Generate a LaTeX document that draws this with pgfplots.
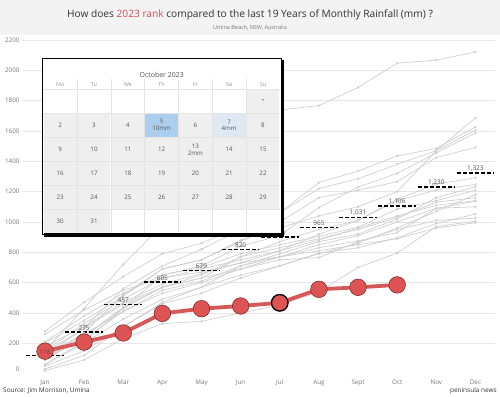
\documentclass[border=0pt]{standalone}
\usepackage{pgfplots}
\usepackage{pgfplotstable}
\pgfplotsset{compat=1.18}
\usepackage{fontspec}
\setmainfont{Open Sans}
\definecolor{redline}{RGB}{214,88,88}
\definecolor{redfill}{RGB}{222,84,84}
\definecolor{reddark}{RGB}{110,35,35}
\definecolor{greyline}{RGB}{208,208,208}
\definecolor{gridc}{RGB}{230,230,230}
\definecolor{ticktxt}{RGB}{120,120,120}
\definecolor{hdr}{RGB}{243,243,243}
\definecolor{cellg}{RGB}{239,239,239}
\definecolor{calline}{RGB}{228,228,228}
\definecolor{blueA}{RGB}{172,206,238}
\definecolor{blueB}{RGB}{222,233,244}
\definecolor{caltxt}{RGB}{85,85,85}
\definecolor{calhead}{RGB}{150,150,150}
\definecolor{titletxt}{RGB}{51,51,51}
\definecolor{titlered}{RGB}{204,78,78}
\definecolor{labtxt}{RGB}{80,80,80}

% cumulative monthly rainfall (mm), previous 19 years
\pgfplotstableread{
m s1 s2 s3 s4 s5 s6 s7 s8 s9 s10 s11 s12 s13 s14 s15 s16 s17 s18 s19
0 150 90 280 120 60 200 90 150 50 210 100 30 140 20 260 60 110 180 130
1 430 270 470 300 210 350 240 330 150 380 230 120 300 90 420 200 250 310 260
2 720 520 640 560 430 510 440 490 310 530 410 310 460 230 550 360 430 470 410
3 980 690 790 710 650 690 570 630 470 650 550 460 570 330 630 490 570 590 530
4 1120 750 860 820 710 750 630 690 570 700 610 530 630 345 670 570 650 660 600
5 1380 880 970 950 840 870 770 750 710 790 710 630 690 400 730 650 770 730 690
6 1738 960 1060 1060 910 1000 870 810 790 850 770 710 750 450 770 710 830 810 770
7 1767 1040 1260 1220 1095 1160 950 920 870 905 830 795 765 540 810 790 890 880 850
8 1887 1100 1335 1285 1230 1210 1010 1010 920 965 875 830 870 700 850 860 950 960 910
9 2047 1200 1435 1380 1320 1265 1150 1140 1020 1085 930 895 950 795 890 960 1030 1040 1000
10 2067 1470 1485 1470 1455 1425 1250 1210 1160 1140 1090 990 1010 970 960 1070 1130 1110 1090
11 2121 1686 1627 1605 1587 1491 1291 1247 1232 1209 1137 1052 1025 1005 995 1180 1160 1140 1100
}\years

% 2023 cumulative rainfall (mm)
\pgfplotstableread{
m v
0 148
1 208
2 268
3 397
4 428
5 446
6 467
7 556
8 569
9 585
}\yr

% average cumulative rainfall (mm)
\pgfplotstableread{
m v
0 118
1 275
2 457
3 605
4 679
5 820
6 900
7 965
8 1031
9 1106
10 1230
11 1323
}\avg

\pgfplotstableread{
x y
-0.48 118
0.48 118
nan nan
0.52 275
1.48 275
nan nan
1.52 457
2.48 457
nan nan
2.52 605
3.48 605
nan nan
3.52 679
4.48 679
nan nan
4.52 820
5.48 820
nan nan
5.52 900
6.48 900
nan nan
6.52 965
7.48 965
nan nan
7.52 1031
8.48 1031
nan nan
8.52 1106
9.48 1106
nan nan
9.52 1230
10.48 1230
nan nan
10.52 1323
11.48 1323
}\avgseg

% calendar cell: row, column, fill, text
\newcommand\cell[4]{%
  \fill[#3] ({43.3+33.8*#2+0.6},{89.3+24*(#1-1)+0.6}) rectangle ({43.3+33.8*(#2+1)-0.6},{89.3+24*#1-0.6});
  \node[font=\fontsize{6.2}{7}\selectfont, text=caltxt, align=center, inner sep=0pt]
    at ({43.3+33.8*(#2+0.5)},{89.3+24*(#1-0.5)}) {#4};}

\begin{document}
\begin{tikzpicture}
\begin{scope}[shift={(-22bp,377.4bp)}, x=1bp, y=-1bp]
  \fill[white] (0,0) rectangle (500,396);
  \fill[hdr] (0,0) rectangle (500,35);
\end{scope}

\begin{axis}[
  scale only axis, width=473bp, height=342bp,
  xmin=-0.587, xmax=11.5, ymin=-25, ymax=2230,
  axis line style={draw=none},
  major tick length=0pt,
  xtick={0,...,11},
  xticklabels={Jan,Feb,Mar,Apr,May,Jun,Jul,Aug,Sept,Oct,Nov,Dec},
  ytick={200,400,...,2200},
  extra y ticks={0},
  extra y tick style={grid=none, yticklabel style={yshift=4bp}},
  ymajorgrids,
  grid style={gridc, line width=0.7bp},
  tick label style={font=\fontsize{6.3}{7}\selectfont, text=ticktxt},
  yticklabel style={/pgf/number format/1000 sep={}, xshift=1bp},
  xticklabel style={yshift=1bp},
  /pgf/number format/assume math mode=true,
  clip=false,
]
\pgfplotsinvokeforeach{1,...,19}{
  \addplot[greyline, line width=0.7bp, mark=*, mark size=0.8bp,
    mark options={fill=greyline, draw=greyline}] table[x=m, y=s#1] {\years};
}
\addplot[redline, line width=3.8bp, mark=*, mark size=8.3bp,
  mark options={fill=redfill, draw=reddark, line width=0.5bp}] table[x=m, y=v] {\yr};
\addplot[only marks, mark=*, mark size=8.3bp,
  mark options={fill=redfill, draw=black, line width=1.3bp}] coordinates {(6,467)};
\addplot[black, line width=1.4bp, dash pattern=on 4bp off 2bp, unbounded coords=jump]
  table[x=x, y=y] {\avgseg};
\addplot[draw=none, mark=none, nodes near coords, point meta=y,
  every node near coord/.style={font=\fontsize{6.5}{7}\selectfont, text=labtxt,
    anchor=south, inner sep=0.8bp, yshift=0.6bp}]
  table[x=m, y=v] {\avg};
\end{axis}

\begin{scope}[shift={(-22bp,377.4bp)}, x=1bp, y=-1bp]
  % title
  \node[font=\fontsize{10.2}{12}\selectfont, text=titletxt] at (250,15)
    {How does \textcolor{titlered}{2023 rank} compared to the last 19 Years of Monthly Rainfall (mm) ?};
  \node[font=\fontsize{5.5}{6}\selectfont, text=ticktxt] at (250,27.5)
    {Umina Beach, NSW, Australia};
  % footer
  \node[font=\fontsize{6.5}{7}\selectfont, text=titletxt, anchor=west, inner sep=0pt] at (3,391)
    {Source: Jim Morrison, Umina};
  \node[font=\fontsize{6.5}{7}\selectfont, text=titletxt, anchor=east, inner sep=0pt] at (497,391)
    {peninsula news};
  % calendar
  \fill[white] (42.3,58.3) rectangle (281,234);
  \foreach \j in {1,...,6} {
    \draw[calline, line width=0.6bp] ({43.3+33.8*\j},79) -- ({43.3+33.8*\j},233.3);
  }
  \foreach \r in {0,...,5} {
    \draw[calline, line width=0.6bp] (43.3,{89.3+24*\r}) -- (280,{89.3+24*\r});
  }
  \cell{1}{6}{cellg}{\textbullet}
  \cell{2}{0}{cellg}{2}
  \cell{2}{1}{cellg}{3}
  \cell{2}{2}{cellg}{4}
  \cell{2}{3}{blueA}{5\\10mm}
  \cell{2}{4}{cellg}{6}
  \cell{2}{5}{blueB}{7\\4mm}
  \cell{2}{6}{cellg}{8}
  \cell{3}{0}{cellg}{9}
  \cell{3}{1}{cellg}{10}
  \cell{3}{2}{cellg}{11}
  \cell{3}{3}{cellg}{12}
  \cell{3}{4}{cellg}{13\\2mm}
  \cell{3}{5}{cellg}{14}
  \cell{3}{6}{cellg}{15}
  \cell{4}{0}{cellg}{16}
  \cell{4}{1}{cellg}{17}
  \cell{4}{2}{cellg}{18}
  \cell{4}{3}{cellg}{19}
  \cell{4}{4}{cellg}{20}
  \cell{4}{5}{cellg}{21}
  \cell{4}{6}{cellg}{22}
  \cell{5}{0}{cellg}{23}
  \cell{5}{1}{cellg}{24}
  \cell{5}{2}{cellg}{25}
  \cell{5}{3}{cellg}{26}
  \cell{5}{4}{cellg}{27}
  \cell{5}{5}{cellg}{28}
  \cell{5}{6}{cellg}{29}
  \cell{6}{0}{cellg}{30}
  \cell{6}{1}{cellg}{31}
  \node[font=\fontsize{7}{8}\selectfont, text=caltxt] at (161.7,75) {October 2023};
  \foreach \d [count=\k from 0] in {Mo,Tu,We,Th,Fr,Sa,Su} {
    \node[font=\fontsize{5.5}{6}\selectfont, text=calhead] at ({43.3+33.8*(\k+0.5)},84.5) {\d};
  }
  \draw[black, line width=1bp] (42.3,58.3) rectangle (281,234);
  \fill[black] (280.5,59.5) rectangle (284.2,237.3);
  \fill[black] (43.5,233.4) rectangle (284.2,237.3);
\end{scope}
\end{tikzpicture}
\end{document}
